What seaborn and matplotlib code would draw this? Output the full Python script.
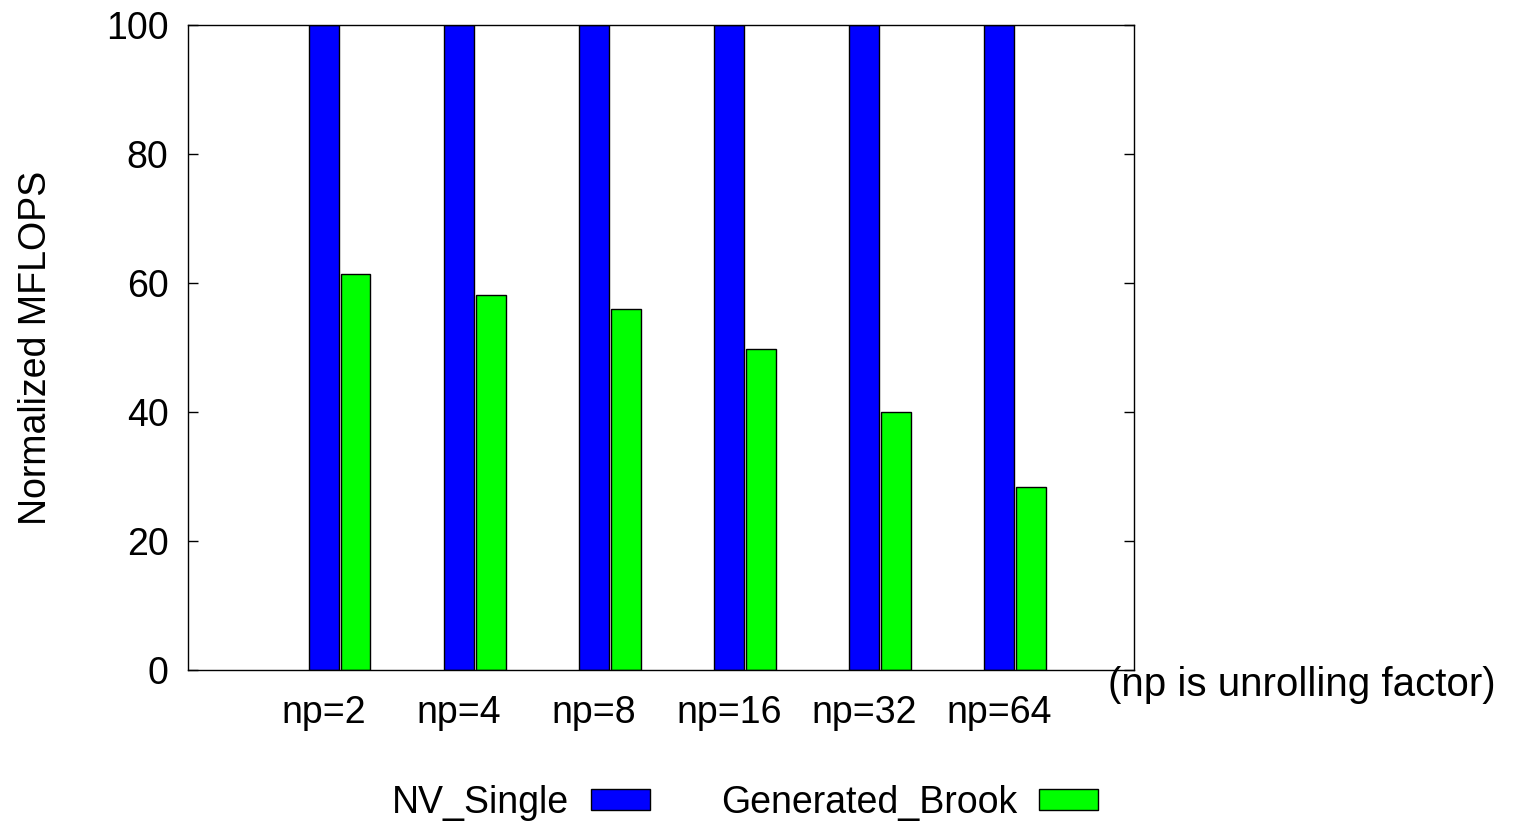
import matplotlib
matplotlib.use("Agg")
import matplotlib.pyplot as plt
import seaborn as sns
import pandas as pd
import numpy as np

categories = ["np=2", "np=4", "np=8", "np=16", "np=32", "np=64"]
nv_single = [100, 100, 100, 100, 100, 100]
generated_brook = [61.4, 58.2, 55.9, 49.7, 40.0, 28.3]
series_names = ["NV_Single", "Generated_Brook"]
y_ticks = [0, 20, 40, 60, 80, 100]

sns.set_theme(style="white")
plt.rcParams["font.family"] = ["Liberation Sans", "DejaVu Sans"]
plt.rcParams["text.color"] = "black"
plt.rcParams["xtick.color"] = "black"
plt.rcParams["ytick.color"] = "black"
plt.rcParams["axes.labelcolor"] = "black"

df = pd.DataFrame({
    "cat": categories * 2,
    "val": nv_single + generated_brook,
    "series": [series_names[0]] * len(categories) + [series_names[1]] * len(categories),
})

fs = 27
fig = plt.figure(figsize=(15.23, 8.26), dpi=100)
ax = fig.add_axes([0.1234, 0.189, 0.6212, 0.7807])

sns.barplot(data=df, x="cat", y="val", hue="series", order=categories,
            hue_order=series_names, palette=["#0000ff", "#00ff00"], saturation=1,
            width=0.47, gap=0.06, edgecolor="black", linewidth=1.0,
            ax=ax, legend=True)

w = 0.47 / 2
ax.set_xlim(-1 - w / 2 - 0.005, len(categories) - 1 + 0.88)
ax.set_ylim(0, 100)
ax.set_xticks(np.arange(len(categories)) - w / 2)
ax.set_xticklabels(categories, fontsize=fs)
ax.set_yticks(y_ticks)
ax.set_yticklabels([str(t) for t in y_ticks], fontsize=fs)
ax.tick_params(axis="y", direction="in", length=7, width=1, left=True, right=True, pad=14)
ax.tick_params(axis="x", length=0, pad=18)
ax.set_xlabel("")
ax.set_ylabel("Normalized MFLOPS", fontsize=fs, labelpad=37)
for s in ax.spines.values():
    s.set_visible(True)
    s.set_color("black")
    s.set_linewidth(1.0)

handles, labels = ax.get_legend_handles_labels()
ax.get_legend().remove()
fig.legend(handles, labels, loc="center", bbox_to_anchor=(0.489, 0.028), ncol=2,
           frameon=False, markerfirst=False, fontsize=fs, handlelength=1.55,
           handleheight=0.48, handletextpad=0.6, columnspacing=1.9)

fig.text(0.7275, 0.171, "(np is unrolling factor)", fontsize=29, ha="left", va="center")

fig.savefig("out.png", dpi=100)
